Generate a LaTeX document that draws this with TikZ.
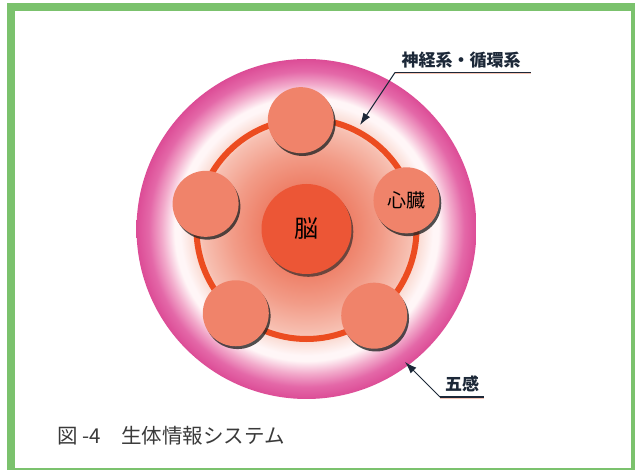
\documentclass[tikz,border=0pt]{standalone}
\usepackage{fontspec}
\setmainfont{Noto Sans CJK JP}
\usepackage{tikz}
\usetikzlibrary{shapes,arrows,arrows.meta,calc,shadows}
\definecolor{framegreen}{HTML}{7BC26D}
\definecolor{organfill}{HTML}{F0836A}
\definecolor{brainfill}{HTML}{EC5636}
\definecolor{ringred}{HTML}{EC4C20}
\definecolor{tagnavy}{HTML}{1C2838}
\definecolor{tagshade}{HTML}{F6C4B4}
\definecolor{captgrey}{HTML}{3A3A3A}
\definecolor{haloA}{HTML}{EE8068}
\definecolor{haloB}{HTML}{F29C88}
\definecolor{haloC}{HTML}{F7C0B2}
\definecolor{haloD}{HTML}{FADCD4}
\definecolor{haloE}{HTML}{FFF6F7}
\definecolor{haloF}{HTML}{F2AACB}
\definecolor{haloG}{HTML}{E468A8}
\definecolor{haloH}{HTML}{DC4C96}
\pgfdeclareradialshading{halo}{\pgfpointorigin}{color(0bp)=(haloA); color(6.6bp)=(haloA); color(11bp)=(haloB); color(15.4bp)=(haloC); color(16.6bp)=(haloD); color(18.6bp)=(haloE); color(19.4bp)=(haloE); color(21.3bp)=(haloF); color(23.2bp)=(haloG); color(25bp)=(haloH); color(50bp)=(haloH)}
\tikzstyle{line} = [draw, -{Latex[length=12pt,width=8pt]}, line width=1pt, tagnavy]
\tikzstyle{underline} = [draw, line width=1.2pt, tagnavy]
\tikzstyle{organ} = [circle, fill=organfill, minimum size=66pt, inner sep=0pt, drop shadow={shadow xshift=1.8pt, shadow yshift=-2.8pt, fill=black!85, opacity=0.8}, font=\fontsize{19}{19}\selectfont]
\tikzstyle{brain} = [circle, fill=brainfill, minimum size=90pt, inner sep=0pt, drop shadow={shadow xshift=1.8pt, shadow yshift=-2.8pt, fill=black!85, opacity=0.65}, font=\fontsize{24}{24}\selectfont]
\tikzstyle{tag} = [text=tagnavy, inner sep=0pt, font=\bfseries\fontsize{17}{17}\selectfont]
\tikzstyle{capt} = [text=captgrey, inner sep=0pt, anchor=west, font=\fontsize{20.5}{20.5}\selectfont]

\begin{document}
\begin{tikzpicture}[x=1pt, y=-1pt]
        \useasboundingbox (0,0) rectangle (635,470);
        \fill[framegreen] (7,3) rectangle (635,470);
        \fill[white] (15,11) rectangle (631,468);
        \coordinate (hub) at (306.5,229);
        \shade[shading=halo] (hub) circle (170pt);
        \draw[ringred, line width=6pt] (hub) circle (110pt);
        \node[brain] (brain) at (hub) {脳};
        \node[organ] (top) at ($(brain)+(93:109pt)$) {};
        \node[organ] (heart) at ($(brain)+(16:104pt)$) {心臓};
        \node[organ] (left) at ($(brain)+(166:104pt)$) {};
        \node[organ] (lowleft) at ($(brain)+(230:110pt)$) {};
        \node[organ] (lowright) at ($(brain)+(308:110pt)$) {};
        \node[tag] (nerve) at (461,60) {神経系・循環系};
        \coordinate (nerveL) at (395,72.5);
        \coordinate (nerveR) at (531,72.5);
        \coordinate (nerveTip) at (360,125);
        \node[tag] (senses) at (462,384) {五感};
        \coordinate (sensesL) at (440,397);
        \coordinate (sensesR) at (484,397);
        \coordinate (sensesTip) at (405,362);
        \node[capt] (caption) at (57,436) {図 -4　生体情報システム};
        \draw[tagshade, line width=0.8pt] ($(nerveL)+(0,1.4)$) -- ($(nerveR)+(0,1.4)$);
        \draw[tagshade, line width=0.8pt] ($(sensesL)+(0,1.4)$) -- ($(sensesR)+(0,1.4)$);
        \path[underline] (nerveL) -- (nerveR);
        \path[underline] (sensesL) -- (sensesR);
        \path[line] (nerveL) -- (nerveTip);
        \path[line] (sensesL) -- (sensesTip);
    \end{tikzpicture}
\end{document}
